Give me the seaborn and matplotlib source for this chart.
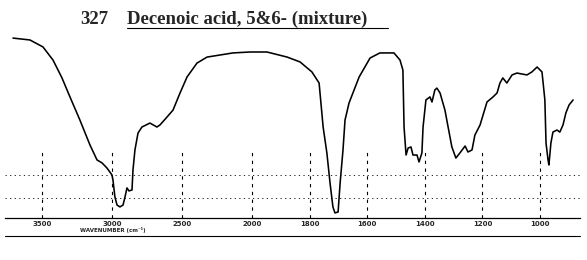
import numpy as np
import pandas as pd
import matplotlib
matplotlib.use("Agg")
import matplotlib.pyplot as plt
import seaborn as sns

# ---- data ----
title_number = "327"
title_text = "Decenoic acid, 5&6- (mixture)"
tick_wavenumbers = [3500, 3000, 2500, 2000, 1800, 1600, 1400, 1200, 1000]
tick_labels = ["3500", "3000", "2500", "2000", "1800", "1600", "1400", "1200", "1000"]
x_label = "WAVENUMBER (cm\u207b\u00b9)"

wavenumber = [3707, 3586, 3493, 3421, 3357, 3300, 3229, 3157, 3107, 3071, 3036, 3000,
              2993, 2979, 2964, 2943, 2921, 2907, 2893, 2879, 2857, 2850, 2836, 2814,
              2786, 2729, 2679, 2657, 2607, 2564, 2514, 2464, 2393, 2321, 2136, 2014,
              1948, 1878, 1833, 1792, 1767, 1753, 1740, 1729, 1719, 1712, 1701, 1694,
              1684, 1677, 1663, 1628, 1590, 1556, 1507, 1486, 1476, 1472, 1465, 1458,
              1448, 1441, 1427, 1420, 1410, 1406, 1396, 1382, 1375, 1365, 1358, 1347,
              1330, 1319, 1306, 1292, 1278, 1260, 1250, 1236, 1226, 1208, 1184, 1163,
              1149, 1139, 1129, 1115, 1097, 1080, 1045, 1028, 1010, 993, 983, 979,
              972, 969, 962, 955, 941, 931, 920, 910, 899, 885]
transmittance = [95.7, 94.7, 91.0, 84.0, 74.5, 64.4, 52.1, 38.8, 30.9, 29.3, 26.6, 22.9,
                 20.2, 11.2, 6.9, 5.9, 6.9, 11.2, 16.0, 14.4, 14.9, 25.5, 36.2, 45.2,
                 48.4, 50.5, 48.4, 49.5, 53.7, 57.4, 66.5, 75.0, 82.4, 85.6, 87.8, 88.3,
                 88.3, 85.6, 83.0, 77.7, 71.8, 48.4, 34.6, 18.6, 5.9, 2.7, 3.2, 18.6,
                 36.2, 52.1, 61.2, 75.0, 85.1, 87.8, 87.8, 84.0, 78.7, 48.4, 33.5, 37.2,
                 37.8, 33.5, 33.5, 29.8, 34.6, 48.4, 62.8, 64.4, 61.7, 68.1, 69.1, 66.5,
                 57.4, 48.4, 37.8, 31.9, 34.6, 38.3, 35.1, 36.2, 44.1, 49.5, 61.7, 64.4,
                 66.5, 71.8, 74.5, 71.8, 76.1, 77.1, 76.1, 77.7, 80.3, 77.7, 62.8, 39.9,
                 30.9, 28.2, 39.9, 45.7, 46.8, 45.7, 49.5, 55.9, 60.1, 62.8]

df = pd.DataFrame({"wavenumber": wavenumber, "transmittance": transmittance})

# piecewise-linear wavenumber scale (compressed above 2000 cm-1)
_wn = [861, 2000, 3764]
_pos = [0.0, 328.0, 575.0]
def fwd(v):
    return np.interp(v, _wn, _pos, left=None, right=None)
def inv(p):
    return np.interp(p, _pos, _wn)

sns.set_style("white")
fig = plt.figure(figsize=(5.87, 2.60), dpi=100)
ax = fig.add_axes([5 / 587, 1 - 218 / 260, 575 / 587, (218 - 30) / 260])
ax.set_xscale("function", functions=(fwd, inv))
ax.set_xlim(3764, 861)
ax.set_ylim(0, 100)

# faint grid remnants of the chart paper (lower part)
for t in [22.9, 10.6]:
    ax.axhline(t, color="black", lw=0.6, ls=(0, (1.5, 4)), zorder=1)
ax.vlines(tick_wavenumbers, 0, 36, color="black", lw=0.8, ls=(0, (3, 4)), zorder=1)

sns.lineplot(data=df, x="wavenumber", y="transmittance", sort=False, estimator=None,
             color="black", lw=1.15, ax=ax, zorder=3)

ax.set_xticks(tick_wavenumbers)
ax.set_xticklabels(tick_labels, fontsize=5, family="DejaVu Sans", fontweight="bold")
ax.tick_params(axis="x", length=0, pad=2)
ax.set_yticks([])
ax.set_xlabel("")
ax.set_ylabel("")
for s in ["top", "left", "right"]:
    ax.spines[s].set_visible(False)
ax.spines["bottom"].set_linewidth(0.9)
ax.spines["bottom"].set_color("black")

fig.text(80 / 587, 1 - 19 / 260, title_number, fontsize=13.5, fontweight="bold",
         family="Liberation Serif", va="center", ha="left")
fig.text(127 / 587, 1 - 19 / 260, title_text, fontsize=13.5, fontweight="bold",
         family="Liberation Serif", va="center", ha="left")
fig.add_artist(plt.Line2D([127 / 587, 388 / 587], [1 - 28 / 260, 1 - 28 / 260],
                          color="black", lw=0.8))
fig.text(80 / 587, 1 - 230 / 260, x_label, fontsize=4, fontweight="bold",
         family="DejaVu Sans", va="center", ha="left")
fig.add_artist(plt.Line2D([5 / 587, 580 / 587], [1 - 236 / 260, 1 - 236 / 260],
                          color="black", lw=0.8))

fig.savefig("out.png", dpi=100, facecolor="white")
